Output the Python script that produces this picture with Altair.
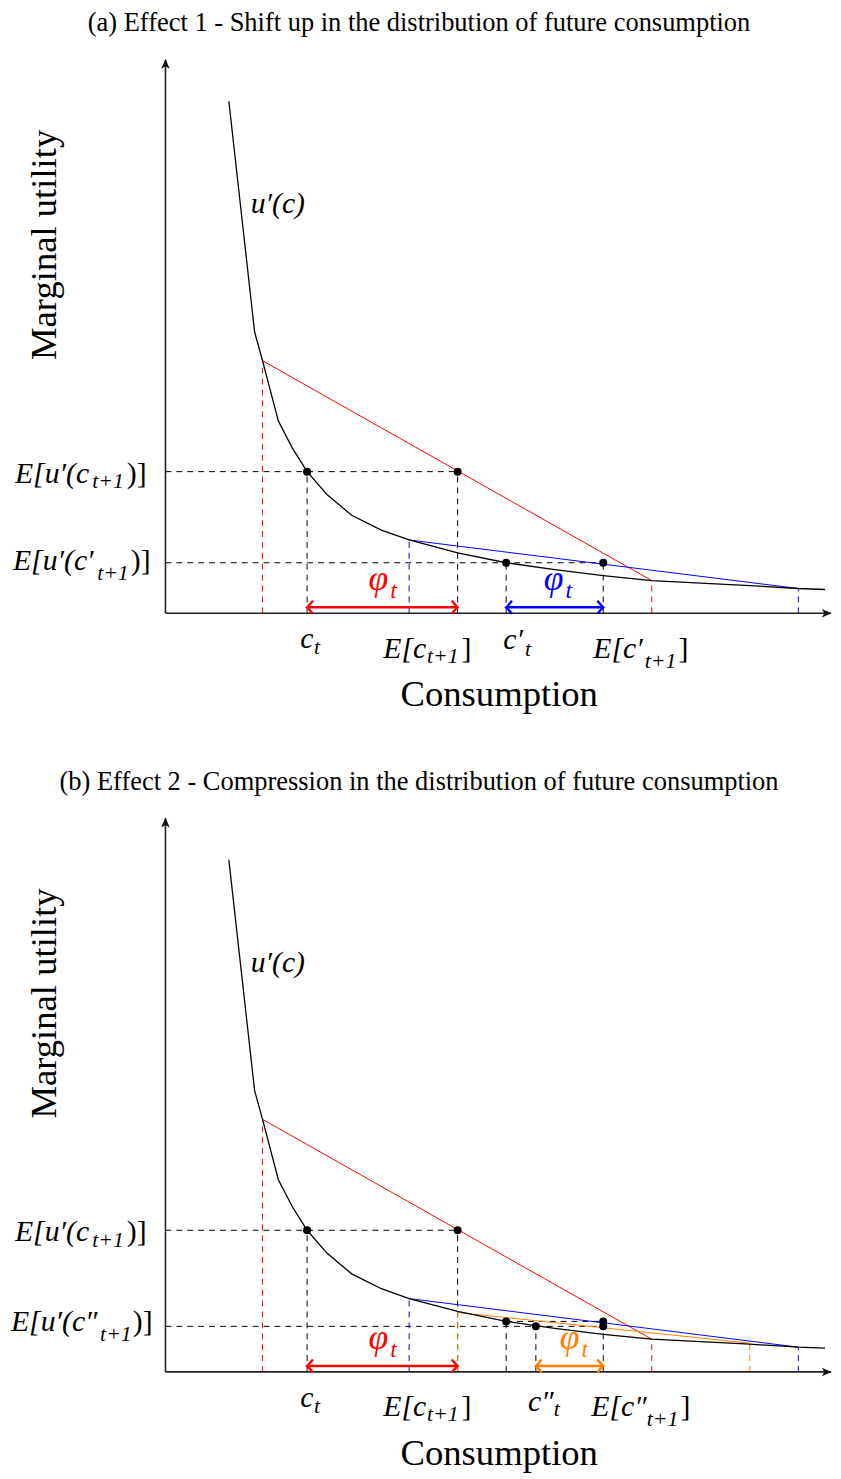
import altair as alt
import pandas as pd

# ---------------- data (arbitrary consumption / utility units) ----------------
# marginal utility curve u'(c)
curve_c = [64, 90, 98, 114, 128, 143, 163, 188, 218, 246, 295, 344, 393, 442, 491, 590, 639, 666]
curve_u = [517, 284, 255, 194, 167, 143, 120, 99, 84, 74, 61, 51, 44, 38, 33, 28, 25, 24]

# consumption levels
c_t = 143        # c_t
E_c = 295        # E[c_{t+1}]
c_p = 344        # c'_t
E_cp = 442       # E[c'_{t+1}] (= E[c''_{t+1}])
c_pp = 374       # c''_t
red_c = [98, 491]      # support of c_{t+1}
blue_c = [246, 639]    # support of c'_{t+1}
orange_c = [295, 590]  # support of c''_{t+1}

# marginal utility levels
Eu = 143         # E[u'(c_{t+1})]
Eu_p = 51        # E[u'(c'_{t+1})]
Eu_pp = 46       # E[u'(c''_{t+1})]
red_u = [255, 33]
blue_u = [74, 25]
orange_u = [60, 29]

x_axis_end = 672
y_axis_end = 559
arrow_level = 6

titles = ["(a) Effect 1 - Shift up in the distribution of future consumption",
          "(b) Effect 2 - Compression in the distribution of future consumption"]

RED, BLUE, ORANGE, BLACK = "#ff0000", "#0000ff", "#ff8000", "#000000"
SHIFT = 766
FONT = "Liberation Serif"

# ---------------- tables ----------------
curve = pd.DataFrame([{"x": c, "y": u, "i": i, "panel": p}
                      for p in (0, 1) for i, (c, u) in enumerate(zip(curve_c, curve_u))])

axes = pd.DataFrame([r for p in (0, 1) for r in (
    {"x": 0, "y": 0, "x2": 0, "y2": y_axis_end, "panel": p},
    {"x": 0, "y": 0, "x2": x_axis_end, "y2": 0, "panel": p})])

axis_heads = pd.DataFrame([r for p in (0, 1) for r in (
    {"x": 0, "y": y_axis_end - 5, "angle": 0, "panel": p},
    {"x": x_axis_end - 5, "y": 0, "angle": 90, "panel": p})])

chords = []
for p in (0, 1):
    chords.append({"x": red_c[0], "y": red_u[0], "x2": red_c[1], "y2": red_u[1], "color": RED, "panel": p})
    chords.append({"x": blue_c[0], "y": blue_u[0], "x2": blue_c[1], "y2": blue_u[1], "color": BLUE, "panel": p})
chords.append({"x": orange_c[0], "y": orange_u[0], "x2": orange_c[1], "y2": orange_u[1], "color": ORANGE, "panel": 1})
chords = pd.DataFrame(chords)

dashed = []
def vline(x, top, color, p):
    dashed.append({"x": x, "y": 0, "x2": x, "y2": top, "color": color, "panel": p})
def hline(y, x0, x1, color, p):
    dashed.append({"x": x0, "y": y, "x2": x1, "y2": y, "color": color, "panel": p})

for p in (0, 1):
    hline(Eu, 0, E_c, BLACK, p)
    vline(red_c[0], red_u[0], RED, p)
    vline(c_t, Eu, BLACK, p)
    vline(blue_c[0], blue_u[0], BLUE, p)
    vline(E_c, Eu, BLACK, p)
    vline(c_p, Eu_p, BLACK, p)
    vline(E_cp, Eu_p, BLACK, p)
    vline(red_c[1], red_u[1], RED, p)
    vline(blue_c[1], blue_u[1], BLUE, p)
hline(Eu_p, 0, E_cp, BLACK, 0)
hline(Eu_pp, 0, E_cp, BLACK, 1)
hline(Eu_p, c_p, E_cp, BLACK, 1)
vline(c_pp, Eu_pp, BLACK, 1)
vline(orange_c[0], orange_u[0], ORANGE, 1)
vline(orange_c[1], orange_u[1], ORANGE, 1)
dashed = pd.DataFrame(dashed)

points = pd.DataFrame([
    {"x": c_t, "y": Eu, "panel": 0}, {"x": E_c, "y": Eu, "panel": 0},
    {"x": c_p, "y": Eu_p, "panel": 0}, {"x": E_cp, "y": Eu_p, "panel": 0},
    {"x": c_t, "y": Eu, "panel": 1}, {"x": E_c, "y": Eu, "panel": 1},
    {"x": c_p, "y": Eu_p, "panel": 1}, {"x": E_cp, "y": Eu_p, "panel": 1},
    {"x": c_pp, "y": Eu_pp, "panel": 1}, {"x": E_cp, "y": Eu_pp, "panel": 1},
])

dbl = pd.DataFrame([
    {"x": c_t, "x2": E_c, "y": arrow_level, "color": RED, "panel": 0},
    {"x": c_p, "x2": E_cp, "y": arrow_level, "color": BLUE, "panel": 0},
    {"x": c_t, "x2": E_c, "y": arrow_level, "color": RED, "panel": 1},
    {"x": c_pp, "x2": E_cp, "y": arrow_level, "color": ORANGE, "panel": 1},
])
dbl_heads = pd.DataFrame([r for _, d in dbl.iterrows() for r in (
    {"x": d["x"], "y": d["y"], "angle": 180, "color": d["color"], "panel": d["panel"]},
    {"x": d["x2"], "y": d["y"], "angle": 0, "color": d["color"], "panel": d["panel"]})])

# text pieces (math labels split into main / subscript parts)
M, S = 30, 22
ital = []
up = []
def it(x, y, t, size=M, color=BLACK, p=0):
    ital.append({"x": x, "y": y, "text": t, "size": size, "color": color, "panel": p})
def upt(x, y, t, size=M, color=BLACK, p=0):
    up.append({"x": x, "y": y, "text": t, "size": size, "color": color, "panel": p})

for p in (0, 1):
    it(-152, 132, "E[u′(c", p=p); it(-74, 126, "t+1", S, p=p); upt(-39, 132, ")]", p=p)
    it(86, 404, "u′(c)", p=p)
    it(136, -35, "c", p=p); it(150, -41, "t", S, p=p)
    it(220, -45, "E[c", p=p); it(264, -50, "t+1", S, p=p); upt(299, -45, "]", p=p)
    it(205, 23, "φ", 36, RED, p); it(227, 15, "t", 24, RED, p)
# panel a specific
it(-154, 44, "E[u′(c′", p=0); it(-69, 34, "t+1", S, p=0); upt(-35, 44, ")]", p=0)
it(341, -36, "c′", p=0); it(363, -43, "t", S, p=0)
it(432, -45, "E[c′", p=0); it(484, -55, "t+1", S, p=0); upt(518, -45, "]", p=0)
it(382, 23, "φ", 36, BLUE, 0); it(404, 15, "t", 24, BLUE, 0)
# panel b specific
it(-156, 41, "E[u′(c″", p=1); it(-66, 31, "t+1", S, p=1); upt(-33, 41, ")]", p=1)
it(366, -39, "c″", p=1); it(392, -45, "t", S, p=1)
it(430, -45, "E[c″", p=1); it(486, -55, "t+1", S, p=1); upt(520, -45, "]", p=1)
it(398, 23, "φ", 36, ORANGE, 1); it(420, 15, "t", 24, ORANGE, 1)
ital = pd.DataFrame(ital)
up = pd.DataFrame(up)

centered = pd.DataFrame([r for p in (0, 1) for r in (
    {"x": 256, "y": 588, "text": titles[p], "size": 26.7, "panel": p},
    {"x": 337, "y": -94, "text": "Consumption", "size": 37, "panel": p})])
rotated = pd.DataFrame([{"x": -122, "y": 372, "text": "Marginal utility", "panel": p} for p in (0, 1)])

# ---------------- chart ----------------
xs = alt.Scale(domain=[-159, 674], nice=False, zero=False)
ys = alt.Scale(domain=[-867, 604], nice=False, zero=False)
X = alt.X("x:Q", scale=xs, axis=None)
Y = alt.Y("yp:Q", scale=ys, axis=None)

def base(df, two=False):
    ch = alt.Chart(df).transform_calculate(yp=f"datum.y - {SHIFT} * datum.panel")
    if two:
        ch = ch.transform_calculate(yp2=f"datum.y2 - {SHIFT} * datum.panel")
    return ch

axis_layer = base(axes, True).mark_rule(color="#222", strokeWidth=1.6).encode(
    x=X, y=Y, x2="x2:Q", y2="yp2:Q")
stealth = "M0,-1 L0.75,0.75 L0,0.3 L-0.75,0.75 Z"
axis_head_layer = base(axis_heads).mark_point(shape=stealth, filled=True, color="#111", size=130, opacity=1).encode(
    x=X, y=Y, angle=alt.Angle("angle:Q", scale=None))

dash_layer = base(dashed, True).mark_rule(strokeWidth=1, strokeDash=[6, 5]).encode(
    x=X, y=Y, x2="x2:Q", y2="yp2:Q", color=alt.Color("color:N", scale=None))
chord_layer = base(chords, True).mark_rule(strokeWidth=1).encode(
    x=X, y=Y, x2="x2:Q", y2="yp2:Q", color=alt.Color("color:N", scale=None))
curve_layer = base(curve).mark_line(color="black", strokeWidth=1.3).encode(
    x=X, y=Y, order="i:Q", detail="panel:N")
point_layer = base(points).mark_circle(color="black", size=65, opacity=1).encode(x=X, y=Y)

dbl_layer = base(dbl).mark_rule(strokeWidth=2.6).encode(
    x=X, y=Y, x2="x2:Q", color=alt.Color("color:N", scale=None))
chev = "M-0.9,-1 Q-0.25,-0.2 0,0 Q-0.25,0.2 -0.9,1"
dbl_head_layer = base(dbl_heads).mark_point(shape=chev, filled=False, strokeWidth=2.4, size=170, opacity=1).encode(
    x=X, y=Y, angle=alt.Angle("angle:Q", scale=None), color=alt.Color("color:N", scale=None))

ital_layer = base(ital).mark_text(font=FONT, fontStyle="italic", align="left", baseline="alphabetic").encode(
    x=X, y=Y, text="text:N", size=alt.Size("size:Q", scale=None), color=alt.Color("color:N", scale=None))
up_layer = base(up).mark_text(font=FONT, align="left", baseline="alphabetic").encode(
    x=X, y=Y, text="text:N", size=alt.Size("size:Q", scale=None), color=alt.Color("color:N", scale=None))
center_layer = base(centered).mark_text(font=FONT, align="center", baseline="alphabetic", color="black").encode(
    x=X, y=Y, text="text:N", size=alt.Size("size:Q", scale=None))
rot_layer = base(rotated).mark_text(font=FONT, align="center", baseline="middle", angle=270, fontSize=37,
                                     color="black").encode(x=X, y=Y, text="text:N")

chart = alt.layer(
    dash_layer, chord_layer, curve_layer, axis_layer, axis_head_layer, point_layer,
    dbl_layer, dbl_head_layer, ital_layer, up_layer, center_layer, rot_layer
).properties(
    width=833, height=1471, padding=0, autosize=alt.AutoSizeParams(type="none"), background="white"
).configure_view(stroke=None)

chart.save("out.html", embed_options={"renderer": "svg", "actions": False})
